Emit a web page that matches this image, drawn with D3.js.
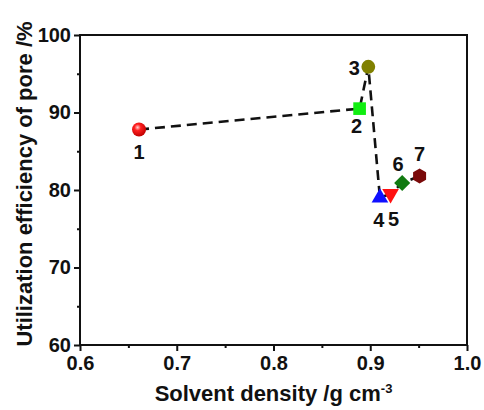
<!DOCTYPE html>
<html>
<head>
<meta charset="utf-8">
<script src="https://cdn.jsdelivr.net/npm/d3@7"></script>
<style>
  body { margin: 0; background: #fff; }
  svg text { font-family: "Liberation Sans", Arial, sans-serif; font-weight: bold; fill: #111; }
</style>
</head>
<body>
<svg id="chart" width="484" height="410"></svg>
<script>
// data
const labels = ['1', '2', '3', '4', '5', '6', '7'];
const density = [0.661, 0.889, 0.898, 0.910, 0.921, 0.933, 0.951];
const efficiency = [87.8, 90.5, 95.9, 79.0, 79.5, 80.9, 81.8];
const shapes = ['sphere', 'square', 'circle', 'triangle', 'triangleDown', 'diamond', 'hexagon'];
const colors = ['#ff1a1a', '#11ee11', '#808000', '#1010ff', '#ff1111', '#117a11', '#7a0a0a'];
const xTicks = [0.6, 0.7, 0.8, 0.9, 1.0];
const yTicks = [60, 70, 80, 90, 100];
const xMinor = [0.65, 0.75, 0.85, 0.95];
const yMinor = [65, 75, 85, 95];
// label offsets (px) relative to the marker
const labelDx = [0, -3, -14, -1, 3, -4, 0];
const labelDy = [29, 24, 8, 29, 32, -12, -15];

const svg = d3.select('#chart');
const margin = { left: 80, top: 35, right: 17, bottom: 65 };
const W = 484 - margin.left - margin.right;
const H = 410 - margin.top - margin.bottom;

const x = d3.scaleLinear().domain([0.6, 1.0]).range([0, W]);
const y = d3.scaleLinear().domain([60, 100]).range([H, 0]);

const defs = svg.append('defs');
const grad = defs.append('radialGradient').attr('id', 'ball')
    .attr('cx', '40%').attr('cy', '35%').attr('r', '65%');
grad.append('stop').attr('offset', '0%').attr('stop-color', '#ffd0d0');
grad.append('stop').attr('offset', '35%').attr('stop-color', '#ff2020');
grad.append('stop').attr('offset', '100%').attr('stop-color', '#c00000');

const g = svg.append('g').attr('transform', `translate(${margin.left},${margin.top})`);

// frame
g.append('rect').attr('width', W).attr('height', H)
    .attr('fill', 'none').attr('stroke', '#111').attr('stroke-width', 2);

function styleAxis(sel) {
    sel.select('.domain').remove();
    sel.selectAll('.tick line').attr('stroke', '#111').attr('stroke-width', 2);
    sel.selectAll('.tick text').style('font-size', '20px');
}

g.append('g').attr('transform', `translate(0,${H})`)
    .call(d3.axisBottom(x).tickValues(xTicks).tickFormat(d3.format('.1f')).tickSize(6).tickPadding(5))
    .call(styleAxis);
g.append('g').attr('transform', `translate(0,${H})`)
    .call(d3.axisBottom(x).tickValues(xMinor).tickFormat('').tickSize(3))
    .call(styleAxis);
g.append('g')
    .call(d3.axisLeft(y).tickValues(yTicks).tickFormat(d3.format('d')).tickSize(6).tickPadding(3))
    .call(styleAxis);
g.append('g')
    .call(d3.axisLeft(y).tickValues(yMinor).tickFormat('').tickSize(3))
    .call(styleAxis);

// axis titles
const xt = svg.append('text').attr('x', margin.left + W / 2).attr('y', 401)
    .attr('text-anchor', 'middle').style('font-size', '22px');
xt.append('tspan').text('Solvent density /g cm');
xt.append('tspan').attr('dy', -8).style('font-size', '13px').text('-3');

svg.append('text')
    .attr('transform', 'translate(32,184) rotate(-90)')
    .attr('text-anchor', 'middle').style('font-size', '22px')
    .text('Utilization efficiency of pore /%');

// dashed connecting line
const pts = density.map((d, i) => [x(d), y(efficiency[i])]);
g.append('path')
    .attr('d', d3.line()(pts))
    .attr('fill', 'none').attr('stroke', '#111').attr('stroke-width', 2.6)
    .attr('stroke-dasharray', '10,6');

// markers
const symbolFor = {
    square: d3.symbol(d3.symbolSquare, 160),
    circle: d3.symbol(d3.symbolCircle, 150),
    triangle: d3.symbol(d3.symbolTriangle, 120),
    triangleDown: d3.symbol(d3.symbolTriangle, 120),
    diamond: d3.symbol(d3.symbolSquare, 130)
};
function hexPath(r) {
    return d3.range(6).map(k => {
        const a = Math.PI / 6 + k * Math.PI / 3;
        return [r * Math.cos(a), r * Math.sin(a)];
    });
}

shapes.forEach((s, i) => {
    const [px, py] = pts[i];
    const m = g.append('g').attr('transform', `translate(${px},${py})`);
    if (s === 'sphere') {
        m.append('circle').attr('r', 7).attr('fill', 'url(#ball)');
    } else if (s === 'hexagon') {
        m.append('path').attr('d', 'M' + hexPath(7.5).join('L') + 'Z').attr('fill', colors[i]);
    } else {
        let rot = 0;
        if (s === 'triangleDown') rot = 180;
        if (s === 'diamond') rot = 45;
        m.append('path').attr('d', symbolFor[s]()).attr('transform', `rotate(${rot})`).attr('fill', colors[i]);
    }
    g.append('text')
        .attr('x', px + labelDx[i]).attr('y', py + labelDy[i])
        .attr('text-anchor', 'middle').style('font-size', '20px')
        .text(labels[i]);
});
</script>
</body>
</html>
